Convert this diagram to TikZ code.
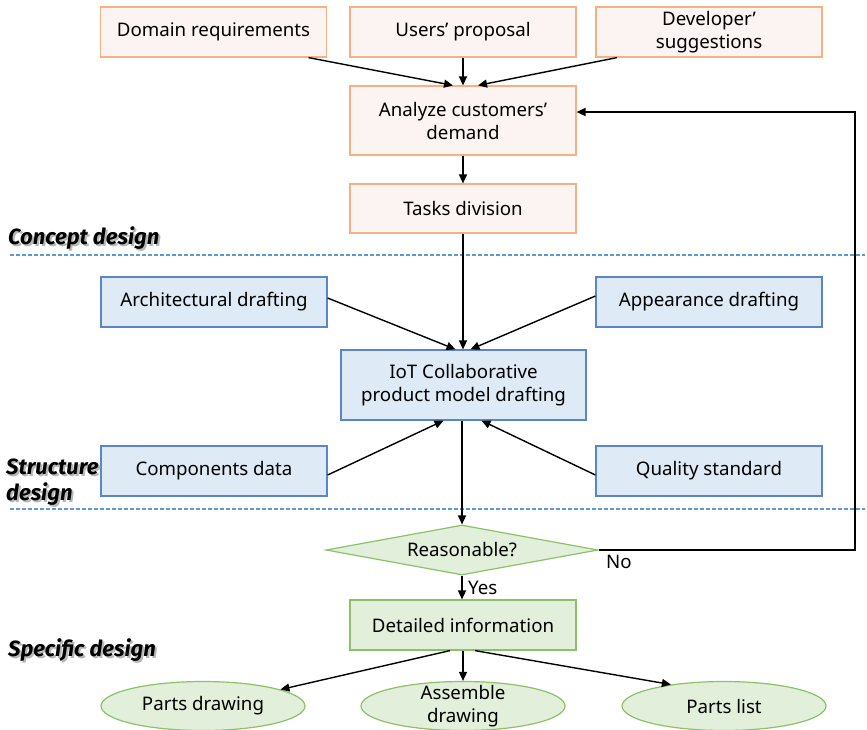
\documentclass[tikz,border=0pt]{standalone}
\usepackage{fontspec}
\setmainfont{Noto Sans}
\newfontfamily\phasefont{Fira Sans}
\usetikzlibrary{arrows.meta,shapes.geometric,calc}
\definecolor{orangeedge}{HTML}{F4B183}
\definecolor{orangefill}{HTML}{FBF4F2}
\definecolor{blueedge}{HTML}{5A86C8}
\definecolor{bluefill}{HTML}{DEEAF6}
\definecolor{greenedge}{HTML}{8CC168}
\definecolor{greenfill}{HTML}{E2EFDA}
\definecolor{sepline}{HTML}{5B9BD5}
\begin{document}
\begin{tikzpicture}[x=1pt,y=-1pt,
  font=\fontsize{18.7}{23}\selectfont,
  box/.style={rectangle,draw,line width=1.2pt,inner sep=0pt,align=center,
    minimum width=226pt,minimum height=50pt},
  inputbox/.style={box,draw=orangeedge,fill=orangefill},
  draftbox/.style={box,draw=blueedge,fill=bluefill},
  resultbox/.style={box,draw=greenedge,fill=greenfill},
  decision/.style={diamond,draw=greenedge,fill=greenfill,line width=1.2pt,
    aspect=5.44,inner sep=0pt,minimum width=272pt,minimum height=50pt},
  outcome/.style={ellipse,draw=greenedge,fill=greenfill,line width=1.2pt,
    inner sep=0pt,minimum width=204pt,minimum height=49pt},
  flow/.style={line width=1.4pt,-{Triangle[length=9pt,width=8pt]}},
  separator/.style={draw=sepline,line width=1.1pt,dash pattern=on 4pt off 2pt},
  phase/.style={anchor=west,inner sep=0pt,align=left,
    font=\phasefont\fontsize{22}{26}\selectfont\bfseries\itshape},
  phaseshadow/.style={phase,text=black!28},
  tag/.style={anchor=west,inner sep=0pt}]
\useasboundingbox (0,0) rectangle (867,729);

% requirement sources
\node[inputbox] (dom) at (213.5,32) {Domain requirements};
\node[inputbox] (usr) at (463,32) {Users’ proposal};
\node[inputbox] (dev) at (709,32) {Developer’\\suggestions};
\node[inputbox,minimum height=69pt] (ana) at (463,120.5) {Analyze customers’\\demand};
\node[inputbox,minimum height=49pt] (tsk) at (463,208.5) {Tasks division};

% drafting stage
\node[draftbox] (arc) at (214,302) {Architectural drafting};
\node[draftbox] (apr) at (709,302) {Appearance drafting};
\node[draftbox,minimum width=245pt,minimum height=70pt] (iot) at (463.5,385) {IoT Collaborative\\product model drafting};
\node[draftbox] (cmp) at (214,471) {Components data};
\node[draftbox] (qua) at (709,471) {Quality standard};

% check and outputs
\node[decision] (rsn) at (462,550) {Reasonable?};
\node[resultbox] (det) at (463,625) {Detailed information};
\node[outcome,label={center:Parts drawing}] (pdr) at (203,706) {};
\node[outcome,label={[align=center]center:Assemble\\drawing}] (asm) at (463,706) {};
\node[outcome,label={center:Parts list}] (pls) at (724,706) {};

% phase separators
\draw[separator] (10,255) -- (865,255);
\draw[separator,line width=2.2pt] (10,255) -- (176,255);
\draw[separator] (10,509) -- (865,509);
\draw[separator,line width=2.2pt] (10,509) -- (86,509);

% phase titles with drop shadow
\node[phaseshadow] (cds) at (10,240) {Concept design};
\node[phase] (cd) at (8,238) {Concept design};
\node[phaseshadow] (sds) at (8,484) {Structure\\design};
\node[phase] (sd) at (6,482) {Structure\\design};
\node[phaseshadow] (pds) at (10,652) {Specific design};
\node[phase] (pd) at (8,650) {Specific design};

% flow
\draw[flow] ([xshift=95pt]dom.south) -- ([xshift=-10pt]ana.north);
\draw[flow] (usr.south) -- (ana.north);
\draw[flow] ([xshift=-92pt]dev.south) -- ([xshift=15pt]ana.north);
\draw[flow] (ana.south) -- (tsk.north);
\draw[flow] (tsk.south) -- (tsk.south |- iot.north);
\draw[flow] ([yshift=4pt]arc.east) -- ([xshift=-8pt]iot.north);
\draw[flow] ([yshift=6pt]apr.west) -- ([xshift=7pt]iot.north);
\draw[flow] ([yshift=-4pt]cmp.east) -- ([xshift=-20pt]iot.south);
\draw[flow] ([yshift=-4pt]qua.west) -- ([xshift=18pt]iot.south);
\draw[flow] (iot.south -| rsn.north) -- (rsn.north);
\draw[flow] (rsn.south) -- (rsn.south |- det.north);
\draw[flow] ([xshift=-13pt]det.south) -- (pdr.12);
\draw[flow] (det.south) -- (asm.north);
\draw[flow] ([xshift=12pt]det.south) -- (pls.158);

% rework loop
\coordinate (loopA) at (855,550);
\coordinate (loopB) at (855,112);
\draw[flow] (rsn.east) -- (loopA) -- (loopB) -- (ana.east |- loopB);
\node[tag] (yes) at (468,588) {Yes};
\node[tag] (no) at (606,562) {No};
\end{tikzpicture}
\end{document}
